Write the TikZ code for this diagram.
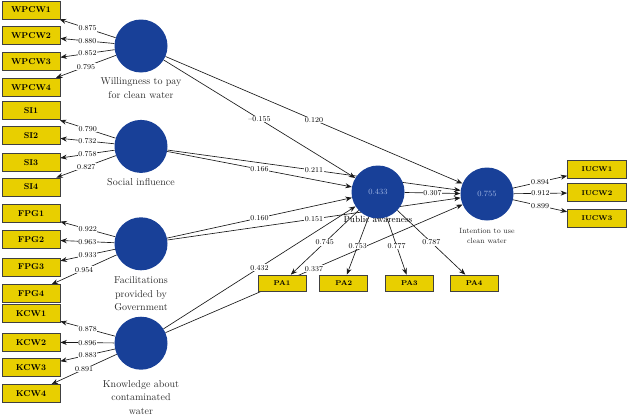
\documentclass[tikz,border=0pt]{standalone}
\usetikzlibrary{positioning,arrows.meta,backgrounds}
\definecolor{plsblue}{RGB}{24,64,152}
\definecolor{plsvalue}{RGB}{160,182,228}
\definecolor{plsyellow}{RGB}{232,207,0}
\definecolor{plsframe}{RGB}{64,64,64}
\definecolor{plstext}{RGB}{45,45,45}
\tikzset{
  latent/.style={circle, fill=plsblue, minimum size=53pt, inner sep=0pt, text=plsvalue, font=\fontsize{8}{9}\selectfont},
  item/.style={draw=plsframe, line width=0.7pt, fill=plsyellow, minimum width=58pt, minimum height=18pt, inner sep=0pt, font=\fontsize{8.5}{10}\selectfont\bfseries},
  smallitem/.style={item, minimum width=48pt, minimum height=16pt, font=\fontsize{7}{8}\selectfont\bfseries},
  rightitem/.style={item, minimum width=59pt, font=\fontsize{7}{8}\selectfont\bfseries},
  caption/.style={align=center, text=plstext, font=\fontsize{10}{13.5}\selectfont, inner sep=1pt},
  link/.style={-{Stealth[length=6.5pt,width=5pt]}, draw=black!90, line width=0.65pt},
  weight/.style={fill=white, inner sep=0.6pt, font=\fontsize{7.5}{8}\selectfont},
}

\begin{document}
\begin{tikzpicture}[x=1pt, y=-1pt]
  \useasboundingbox (0,0) rectangle (628,415);

  \node[item] (WPCW1) at (31,10) {WPCW1};
  \node[item, below=7pt of WPCW1] (WPCW2) {WPCW2};
  \node[item, below=7pt of WPCW2] (WPCW3) {WPCW3};
  \node[item, below=7pt of WPCW3] (WPCW4) {WPCW4};
  \node[item, below=5pt of WPCW4] (SI1) {SI1};
  \node[item, below=6pt of SI1] (SI2) {SI2};
  \node[item, below=8pt of SI2] (SI3) {SI3};
  \node[item, below=6pt of SI3] (SI4) {SI4};
  \node[item, below=8pt of SI4] (FPG1) {FPG1};
  \node[item, below=7pt of FPG1] (FPG2) {FPG2};
  \node[item, below=9pt of FPG2] (FPG3) {FPG3};
  \node[item, below=8pt of FPG3] (FPG4) {FPG4};
  \node[item, below=1pt of FPG4] (KCW1) {KCW1};
  \node[item, below=10pt of KCW1] (KCW2) {KCW2};
  \node[item, below=7pt of KCW2] (KCW3) {KCW3};
  \node[item, below=7pt of KCW3] (KCW4) {KCW4};

  \node[latent] (WP) at (141,46) {};
  \node[caption, below=4pt of WP] (WPlabel) {Willingness to pay\\for clean water};
  \node[latent, below=47pt of WP] (SI) {};
  \node[caption, below=4pt of SI] (SIlabel) {Social influence};
  \node[latent, below=44pt of SI] (FPG) {};
  \node[caption, below=5pt of FPG] (FPGlabel) {Facilitations\\provided by\\Government};
  \node[latent, below=46pt of FPG] (KCW) {};
  \node[caption, below=9pt of KCW] (KCWlabel) {Knowledge about\\contaminated\\water};

  \node[latent] (PA) at (378,192) {0.433};
  \node[caption, text=black, font=\fontsize{9}{10}\selectfont, below=-4pt of PA] (PAlabel) {Public awareness};
  \node[latent] (IU) at (487,194) {0.755};
  \node[caption, font=\fontsize{7.5}{10}\selectfont, below=6pt of IU] (IUlabel) {Intention to use\\clean water};

  \node[smallitem] (PA1) at (282,283) {PA1};
  \node[smallitem, right=13pt of PA1] (PA2) {PA2};
  \node[smallitem, right=17pt of PA2] (PA3) {PA3};
  \node[smallitem, right=16pt of PA3] (PA4) {PA4};

  \node[rightitem] (IUCW1) at (597,169) {IUCW1};
  \node[rightitem, below=5pt of IUCW1] (IUCW2) {IUCW2};
  \node[rightitem, below=7pt of IUCW2] (IUCW3) {IUCW3};

  \begin{pgfonlayer}{background}
    \path (WP) edge[link] node[weight] {0.875} (WPCW1)
               edge[link] node[weight] {0.880} (WPCW2)
               edge[link] node[weight] {0.852} (WPCW3)
               edge[link] node[weight] {0.795} (WPCW4)
               edge[link] node[weight] {--0.155} (PA)
               edge[link] node[weight] {0.120} (IU);
    \path (SI) edge[link] node[weight] {0.790} (SI1)
               edge[link] node[weight] {0.732} (SI2)
               edge[link] node[weight] {0.758} (SI3)
               edge[link] node[weight] {0.827} (SI4)
               edge[link] node[weight] {0.166} (PA)
               edge[link] node[weight] {0.211} (IU);
    \path (FPG) edge[link] node[weight] {0.922} (FPG1)
                edge[link] node[weight] {0.963} (FPG2)
                edge[link] node[weight] {0.933} (FPG3)
                edge[link] node[weight] {0.954} (FPG4)
                edge[link] node[weight] {0.160} (PA)
                edge[link] node[weight] {0.151} (IU);
    \path (KCW) edge[link] node[weight] {0.878} (KCW1)
                edge[link] node[weight] {0.896} (KCW2)
                edge[link] node[weight] {0.883} (KCW3)
                edge[link] node[weight] {0.891} (KCW4)
                edge[link] node[weight] {0.432} (PA)
                edge[link] node[weight] {0.337} (IU);
    \path (PA) edge[link] node[weight] {0.745} (PA1)
               edge[link] node[weight] {0.753} (PA2)
               edge[link] node[weight] {0.777} (PA3)
               edge[link] node[weight] {0.787} (PA4)
               edge[link] node[weight] {0.307} (IU);
    \path (IU) edge[link] node[weight] {0.894} (IUCW1)
               edge[link] node[weight] {0.912} (IUCW2)
               edge[link] node[weight] {0.899} (IUCW3);
  \end{pgfonlayer}
\end{tikzpicture}
\end{document}
